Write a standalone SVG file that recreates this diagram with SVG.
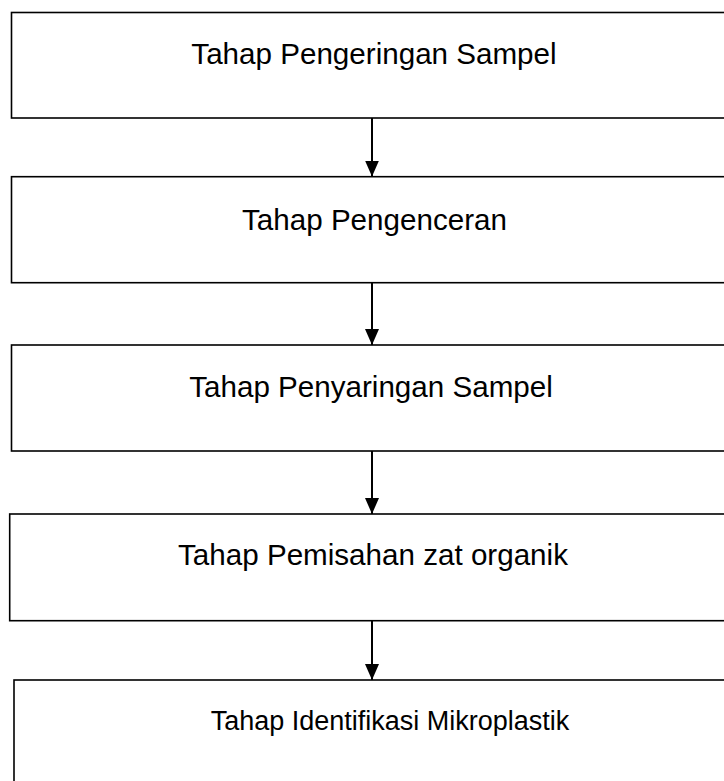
<svg xmlns="http://www.w3.org/2000/svg" width="724" height="781" viewBox="0 0 724 781">
<style>
.box{fill:#fff;stroke:#000;stroke-width:1.6}
.lbl{font-family:"Liberation Sans",Arial,sans-serif;font-size:29.6px;fill:#000;text-anchor:middle}
.con{stroke:#000;stroke-width:2;fill:none;marker-end:url(#ah)}
</style>
<defs>
<marker id="ah" viewBox="0 0 16 14" refX="16" refY="7" markerWidth="16" markerHeight="14" markerUnits="userSpaceOnUse" orient="auto">
<path d="M0,0 L16,7 L0,14 Z" fill="#000"/>
</marker>
</defs>
<rect width="724" height="781" fill="#fff"/>
<g id="connectors">
<line class="con" x1="372" y1="118" x2="372" y2="176.5"/>
<line class="con" x1="372" y1="283" x2="372" y2="345"/>
<line class="con" x1="372" y1="451" x2="372" y2="514"/>
<line class="con" x1="372" y1="621" x2="372" y2="680"/>
</g>
<g id="n1"><rect class="box" x="11.5" y="12.5" width="720" height="105.5"/><text class="lbl" x="374" y="64">Tahap Pengeringan Sampel</text></g>
<g id="n2"><rect class="box" x="11.5" y="176.7" width="720" height="106"/><text class="lbl" x="374.5" y="230">Tahap Pengenceran</text></g>
<g id="n3"><rect class="box" x="11.5" y="345" width="720" height="106"/><text class="lbl" x="371" y="397">Tahap Penyaringan Sampel</text></g>
<g id="n4"><rect class="box" x="9.7" y="514" width="720" height="106.7"/><text class="lbl" x="373" y="565">Tahap Pemisahan zat organik</text></g>
<g id="n5"><rect class="box" x="14" y="680" width="720" height="120"/><text class="lbl" x="390" y="730" style="font-size:27px">Tahap Identifikasi Mikroplastik</text></g>
</svg>
